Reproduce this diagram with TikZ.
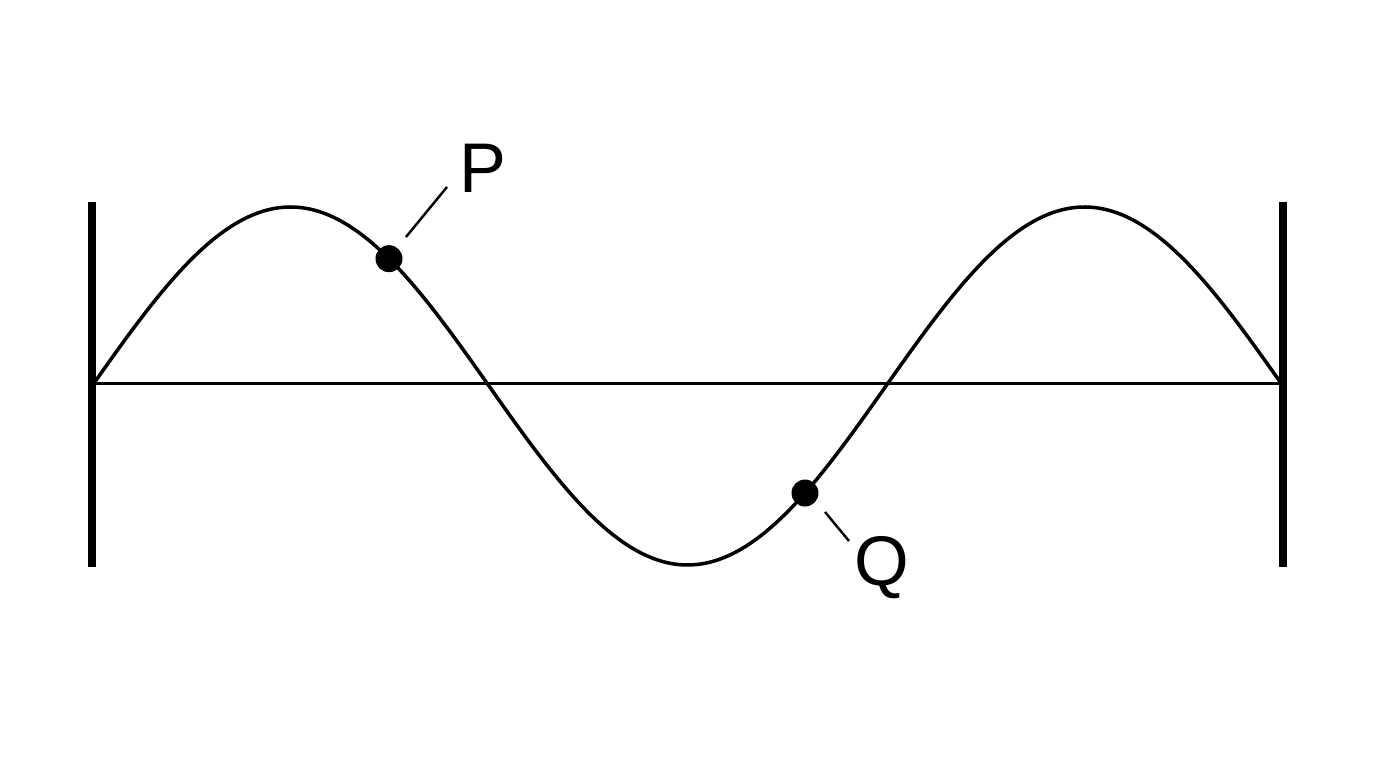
\documentclass[tikz,border=0pt]{standalone}
\usepackage{fontspec}
\setmainfont{Liberation Sans}
\usetikzlibrary{calc}
\def\wavey#1{3.82+1.79*sin(((#1)-0.92)/7.94*360)}

\begin{document}
\begin{tikzpicture}
			%%%%% START %%%%%
			\useasboundingbox (0, 0) rectangle (13.76, 7.68);
			
			\draw[line width=2pt] (0.92, 2.01) -- (0.92, 5.66);
			\draw[line width=2pt] (12.83, 2.01) -- (12.83, 5.66);
			
			\draw[line width=0.85pt] (0.92, 3.84) -- (12.83, 3.84);
			\draw[line width=1pt, domain=0.92:12.83, samples=200, smooth] plot (\x, {\wavey{\x}});
			
			\coordinate (P) at (3.89, {\wavey{3.89}});
			\coordinate (Q) at (8.05, {\wavey{8.05}});
			\fill (P) circle (0.135);
			\fill (Q) circle (0.135);
			
			\node[anchor=base, font=\fontsize{20}{24}\selectfont, inner sep=0] (Plabel) at (4.825, 5.75) {P};
			\node[anchor=base, font=\fontsize{20}{24}\selectfont, inner sep=0] (Qlabel) at (8.82, 1.82) {Q};
			
			\coordinate (pa) at (4.06, 5.31);
			\coordinate (pb) at (4.47, 5.81);
			\coordinate (qa) at (8.25, 2.56);
			\coordinate (qb) at (8.49, 2.27);
			\draw[line width=0.7pt] (pa) -- (pb);
			\draw[line width=0.7pt] (qa) -- (qb);
			%%%%% END %%%%%
		\end{tikzpicture}
\end{document}
